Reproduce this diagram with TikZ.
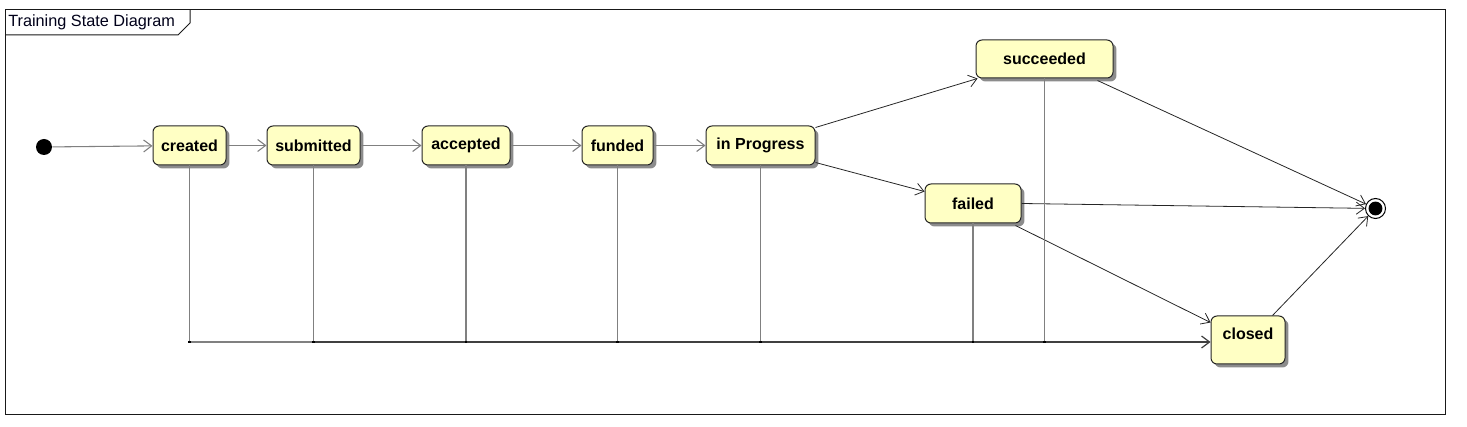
\documentclass[tikz,border=0pt]{standalone}
\usepackage{fontspec}
\setmainfont{Liberation Sans}
\usetikzlibrary{arrows.meta,shadows,calc}
\definecolor{stfill}{HTML}{FFFFC4}
\definecolor{lngray}{HTML}{808080}
\tikzset{
  stbox/.style={draw=black!85, line width=0.75pt, fill=stfill, rounded corners=4.5pt,
    minimum height=29.25pt, inner sep=0pt, font=\fontsize{12}{14}\selectfont\bfseries,
    drop shadow={shadow xshift=2.6pt, shadow yshift=-2.6pt, fill=black, opacity=0.45}},
  tr/.style={draw=lngray, line width=0.8pt, -{Straight Barb[length=6pt,width=9pt]}},
  trd/.style={draw=black!85, line width=0.6pt, -{Straight Barb[length=6pt,width=9pt]}},
  vl/.style={draw=lngray, line width=0.8pt},
  jdot/.style={fill=black}
}
\begin{document}
\begin{tikzpicture}[x=0.75pt,y=-0.75pt]
\useasboundingbox (0,0) rectangle (1467,427);
% frame
\draw[line width=0.75pt, black!90] (5,10) rectangle (1445,415);
\draw[line width=0.75pt, black!90] (5,35) -- (178,35) -- (190,23) -- (190,10);
\node[anchor=west, inner sep=0pt, font=\fontsize{12.2}{14}\selectfont, text=black!90!blue] (title) at (8,22.5) {Training State Diagram};
% states
\node[circle, fill=black, minimum size=12pt, inner sep=0pt] (init) at (44,147) {};
\node[stbox, minimum width=54.75pt] (created) at (189.5,145.5) {created};
\node[stbox, minimum width=69.75pt] (submitted) at (313.5,145.5) {submitted};
\node[stbox, minimum width=66pt] (accepted) at (466,145.5) {accepted};
\node[stbox, minimum width=53.25pt] (funded) at (617.5,145.5) {funded};
\node[stbox, minimum width=81.75pt] (inprog) at (760.5,145.5) {in Progress};
\node[stbox, minimum width=102.75pt, minimum height=28.5pt] (succ) at (1044.5,59) {succeeded};
\node[stbox, minimum width=72pt] (failed) at (973,203.5) {failed};
\node[stbox, minimum width=55.5pt, minimum height=36pt] (closed) at (1248,340) {\raisebox{10pt}{closed}};
\node[circle, draw=black, fill=white, line width=0.75pt, minimum size=15pt, inner sep=0pt] (final) at (1375.5,208.5) {};
\fill[black] (final) circle (5.2pt);
% main flow
\draw[tr] (init) -- (created);
\draw[tr] (created) -- (submitted);
\draw[tr] (submitted) -- (accepted);
\draw[tr] (accepted) -- (funded);
\draw[tr] (funded) -- (inprog);
\draw[trd] ($(inprog.north east)+(0,2)$) -- ($(succ.south west)+(2,0)$);
\draw[trd] ($(inprog.south east)+(0,-3)$) -- ($(failed.north west)+(0,8)$);
\draw[trd] ($(succ.south east)+(-16,2)$) -- (final);
\draw[trd] (failed.east) -- (final);
\draw[trd] ($(failed.south east)+(-6,2)$) -- ($(closed.north west)+(0,7)$);
\draw[trd] ($(closed.north east)+(-13,0)$) -- (final);
% bus to closed
\coordinate (bus) at (0,342);
\coordinate (j1) at (created.south |- bus);
\coordinate (j2) at (submitted.south |- bus);
\coordinate (j3) at (accepted.south |- bus);
\coordinate (j4) at (funded.south |- bus);
\coordinate (j5) at (inprog.south |- bus);
\coordinate (j6) at (failed.south |- bus);
\coordinate (j7) at (succ.south |- bus);
\draw[vl] (created.south) -- (j1);
\draw[vl] (submitted.south) -- (j2);
\draw[vl] (accepted.south) -- (j3);
\draw[vl] (funded.south) -- (j4);
\draw[vl] (inprog.south) -- (j5);
\draw[vl] (failed.south) -- (j6);
\draw[vl] (succ.south) -- (j7);
\draw[vl] (j1) -- (j2);
\draw[draw=black!75, line width=0.9pt, -{Straight Barb[length=6pt,width=9pt]}] (j2) -- (closed.west |- bus);
\foreach \j in {j1,j2,j3,j4,j5,j6,j7} \fill[black] ($(\j)+(-1.2,-1.2)$) rectangle ($(\j)+(1.2,1.2)$);
\end{tikzpicture}
\end{document}
